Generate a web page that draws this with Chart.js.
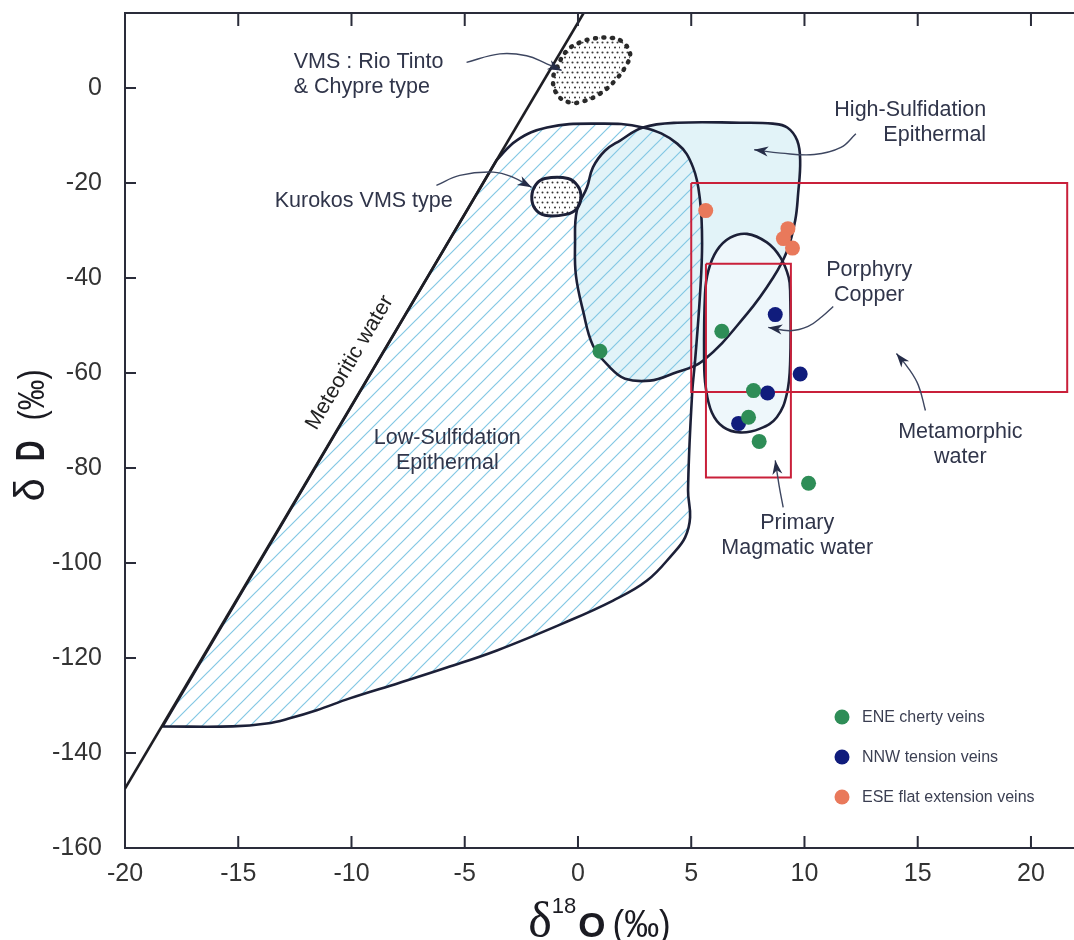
<!DOCTYPE html>
<html>
<head>
<meta charset="utf-8">
<title>δD vs δ18O</title>
<script src="https://cdn.jsdelivr.net/npm/chart.js@4.4.1/dist/chart.umd.min.js"></script>
<style>
  html, body { margin: 0; padding: 0; background: #fff; }
  canvas { display: block; }
</style>
</head>
<body>
<canvas id="chart" width="1074" height="940" style="width:1074px;height:940px"></canvas>
<script>
// ticks
const xTicks = [-20, -15, -10, -5, 0, 5, 10, 15, 20];
const yTicks = [-160, -140, -120, -100, -80, -60, -40, -20, 0];

// samples (δ18O, δD)
const seriesNames = ['ENE cherty veins', 'NNW tension veins', 'ESE flat extension veins'];
const eneCherty = [[0.97, -55.4], [6.35, -51.2], [7.75, -63.7], [7.53, -69.3], [8.0, -74.4], [10.18, -83.2]];
const nnwTension = [[8.71, -47.7], [9.81, -60.2], [8.37, -64.2], [7.09, -70.6]];
const eseFlat = [[5.64, -25.8], [9.27, -29.6], [9.07, -31.7], [9.47, -33.7]];

// fields (outlines, repeated point = sharp corner)
const meteoricWater = [[-20, -147.5], [0.25, 15.8]];
const lowSulfidation = [
  [-18.34, -134.4], [-18.34, -134.4], [-3.6, -15.2], [-3.6, -15.2],
  [-2.7, -11.0], [-1.37, -8.3], [0.66, -7.5], [2.87, -8.3], [4.38, -11.7], [5.08, -16.7],
  [5.39, -23.7], [5.48, -32.7], [5.39, -43.3], [5.17, -57.4], [5.04, -64.3], [4.86, -84.7],
  [4.95, -90.4], [4.73, -94.6], [4.2, -98.0], [3.05, -103.7], [1.55, -107.9], [-0.66, -112.7],
  [-3.58, -118.4], [-5.79, -122.0], [-7.87, -125.2], [-10.08, -128.5], [-11.54, -131.0],
  [-12.73, -132.7], [-13.75, -133.8], [-15.25, -134.4]
];
const highSulfidation = [
  [-0.13, -32.8], [-0.05, -25.8], [0.4, -20.9], [0.66, -16.7], [1.19, -13.2], [1.86, -11.05],
  [2.87, -8.3], [4.38, -7.3], [7.16, -7.3], [8.6, -7.5], [9.24, -8.3], [9.68, -11.05],
  [9.81, -15.3], [9.72, -22.2], [9.59, -27.9], [9.24, -34.2], [8.62, -39.9], [7.47, -47.5],
  [5.52, -57.4], [4.2, -60.1], [3.18, -61.6], [2.08, -61.2], [1.41, -58.8], [0.66, -54.2],
  [0.22, -46.8], [-0.09, -39.5]
];
const porphyryCopper = [
  [7.46, -30.7], [8.34, -32.5], [8.93, -35.6], [9.3, -39.8], [9.37, -43.3], [9.37, -57.4],
  [9.22, -64.4], [8.78, -69.3], [8.04, -71.7], [7.16, -72.5], [6.42, -71.4], [5.91, -68.3],
  [5.64, -63.0], [5.57, -57.4], [5.61, -43.3], [5.76, -38.4], [6.13, -34.2], [6.72, -31.5]
];
const kurokosVms = [
  [-1.46, -19.05], [-0.44, -19.05], [0.0, -20.7], [0.13, -23.05], [-0.05, -25.4],
  [-0.53, -26.6], [-1.46, -26.8], [-1.9, -25.4], [-2.04, -22.8], [-1.85, -20.3]
];
const rioTintoVms = [
  [-0.93, 4.3], [-0.49, 7.9], [0.09, 9.6], [0.66, 10.4], [1.41, 10.6], [1.94, 9.8], [2.3, 7.3],
  [2.12, 4.7], [1.64, 1.6], [0.97, -1.2], [0.22, -2.8], [-0.35, -3.05], [-0.88, -1.6], [-1.11, 1.6]
];
const metamorphicBox = [[5, -20], [21.6, -20], [21.6, -64], [5, -64], [5, -20]];
const magmaticBox = [[5.65, -37], [9.4, -37], [9.4, -82], [5.65, -82], [5.65, -37]];

// leader arrows (last point = arrow tip)
const arrowRioTinto = [[-4.92, 5.4], [-3.45, 7.2], [-2.27, 6.8], [-1.38, 5.1], [-0.72, 3.7]];
const arrowKurokos = [[-6.25, -20.5], [-5.22, -18.4], [-3.74, -17.7], [-2.86, -18.8], [-2.05, -20.9]];
const arrowHighSulf = [[12.27, -9.6], [11.61, -12.5], [10.43, -14.0], [8.96, -13.7], [7.78, -13.0]];
const arrowPorphyry = [[11.27, -46.0], [10.78, -48.1], [10.16, -50.2], [9.37, -51.1], [8.4, -50.4]];
const arrowMetamorphic = [[15.34, -67.9], [15.03, -62.6], [14.59, -59.0], [14.06, -55.9]];
const arrowMagmatic = [[9.06, -88.3], [8.88, -83.7], [8.71, -78.4]];
const arrows = [arrowRioTinto, arrowKurokos, arrowHighSulf, arrowPorphyry, arrowMetamorphic, arrowMagmatic];

// text labels
const annotations = [
  { lines: ['VMS : Rio Tinto', '& Chypre type'], x: -12.55, y: 5.4, align: 'left' },
  { lines: ['Kurokos VMS type'], x: -9.46, y: -23.7, align: 'center' },
  { lines: ['High-Sulfidation', 'Epithermal'], x: 18.02, y: -4.74, align: 'right' },
  { lines: ['Porphyry', 'Copper'], x: 12.86, y: -38.4, align: 'center' },
  { lines: ['Metamorphic', 'water'], x: 16.88, y: -72.5, align: 'center' },
  { lines: ['Primary', 'Magmatic water'], x: 9.68, y: -91.5, align: 'center' },
  { lines: ['Low-Sulfidation', 'Epithermal'], x: -5.77, y: -73.8, align: 'center' }
];
const meteoricLabel = { text: 'Meteoritic water', x: -10.08, y: -57.8 };

// styles
const family = '"Liberation Sans", Arial, Helvetica, sans-serif';
const axisColor = '#2a2c3a';
const outlineColor = '#1c2038';
const arrowColor = '#3d4660';
const textColor = '#30354a';
const boxRed = '#c9203a';
const seriesColors = ['#2e8d57', '#101c7c', '#e9795b'];

function hatch() {
  const s = 16;
  const c = document.createElement('canvas');
  c.width = c.height = s;
  const g = c.getContext('2d');
  g.strokeStyle = '#84c8e4';
  g.lineWidth = 1.2;
  g.beginPath();
  g.moveTo(0, s); g.lineTo(s, 0);
  g.moveTo(-s / 2, s / 2); g.lineTo(s / 2, -s / 2);
  g.moveTo(s / 2, s * 1.5); g.lineTo(s * 1.5, s / 2);
  g.stroke();
  return g.createPattern(c, 'repeat');
}

function stipple(step, r, color) {
  const c = document.createElement('canvas');
  c.width = c.height = step * 2;
  const g = c.getContext('2d');
  g.fillStyle = '#fff';
  g.fillRect(0, 0, step * 2, step * 2);
  g.fillStyle = color;
  for (const [px, py] of [[step / 2, step / 2], [step * 1.5, step * 1.5], [step * 1.5, step / 2], [step / 2, step * 1.5]]) {
    g.beginPath();
    g.arc(px + (py > step ? step / 2 : 0), py, r, 0, Math.PI * 2);
    g.fill();
  }
  return g.createPattern(c, 'repeat');
}

function fieldFill(data, bg, order) {
  return { data, showLine: true, closed: true, tension: 0.4, borderWidth: 0, pointRadius: 0, fill: 'shape', backgroundColor: bg, order };
}
function fieldLine(data, extra) {
  return Object.assign({ data, showLine: true, closed: true, tension: 0.4, borderColor: outlineColor, borderWidth: 2.6, pointRadius: 0, fill: false, order: 5 }, extra || {});
}
function straight(data, color, width, order) {
  return { data, showLine: true, tension: 0, borderColor: color, borderWidth: width, pointRadius: 0, fill: false, order };
}

const datasets = [
  ...[eneCherty, nnwTension, eseFlat].map((d, i) => ({
    label: seriesNames[i], data: d, backgroundColor: seriesColors[i], borderColor: seriesColors[i],
    borderWidth: 0, pointRadius: 7.5, order: i === 0 ? 0 : 1
  })),
  ...arrows.map(a => ({ data: a, showLine: true, tension: 0.4, borderColor: arrowColor, borderWidth: 1.4, pointRadius: 0, fill: false, order: 2 })),
  straight(metamorphicBox, boxRed, 2, 3),
  straight(magmaticBox, boxRed, 2, 3),
  straight(meteoricWater, '#1e1e24', 2.6, 4),
  fieldLine(lowSulfidation),
  fieldLine(highSulfidation),
  fieldLine(porphyryCopper),
  fieldLine(kurokosVms, { borderWidth: 3 }),
  fieldLine(rioTintoVms, { borderColor: '#2a2a2a', borderWidth: 4.5, borderDash: [1, 7.5], borderCapStyle: 'round' }),
  fieldFill(rioTintoVms, stipple(5, 1.05, '#3a3a3a'), 6),
  fieldFill(kurokosVms, stipple(5, 1.0, '#333'), 6),
  fieldFill(lowSulfidation, hatch(), 7),
  fieldFill(porphyryCopper, '#eef7fb', 8),
  fieldFill(highSulfidation, '#e2f3f8', 9)
];

// make the flagged outlines closed, smooth loops
const closeLoops = {
  id: 'closeLoops',
  afterDatasetUpdate(chart, args) {
    const ds = chart.data.datasets[args.index];
    if (ds.closed && args.meta.dataset) {
      args.meta.dataset._loop = true;
      args.meta.dataset._fullLoop = true;
    }
  }
};

function measureParts(ctx, parts) {
  let w = 0;
  for (const p of parts) {
    if (p.t) { ctx.font = p.font; p.w = ctx.measureText(p.t).width * (p.sx || 1); } else p.w = p.gap;
    w += p.w;
  }
  return w;
}
function drawParts(ctx, parts, x0, y0) {
  let x = x0;
  for (const p of parts) {
    if (p.t) {
      ctx.save();
      ctx.font = p.font;
      ctx.translate(x, y0 + (p.dy || 0));
      ctx.scale(p.sx || 1, 1);
      ctx.fillText(p.t, 0, 0);
      ctx.restore();
    }
    x += p.w;
  }
}

const decor = {
  id: 'decor',
  afterDatasetsDraw(chart) {
    const { ctx, scales: { x, y } } = chart;
    ctx.save();
    // arrow heads
    ctx.fillStyle = '#262d48';
    for (const a of arrows) {
      const n = a.length;
      const x1 = x.getPixelForValue(a[n - 2][0]), y1 = y.getPixelForValue(a[n - 2][1]);
      const x2 = x.getPixelForValue(a[n - 1][0]), y2 = y.getPixelForValue(a[n - 1][1]);
      ctx.save();
      ctx.translate(x2, y2);
      ctx.rotate(Math.atan2(y2 - y1, x2 - x1));
      ctx.beginPath();
      ctx.moveTo(0, 0); ctx.lineTo(-14, -5); ctx.lineTo(-10, 0); ctx.lineTo(-14, 5);
      ctx.closePath();
      ctx.fill();
      ctx.restore();
    }
    // labels
    ctx.fillStyle = textColor;
    ctx.font = `21.5px ${family}`;
    ctx.textBaseline = 'middle';
    for (const an of annotations) {
      ctx.textAlign = an.align;
      const px = x.getPixelForValue(an.x), py = y.getPixelForValue(an.y);
      an.lines.forEach((t, i) => ctx.fillText(t, px, py + i * 25));
    }
    // label along meteoric water line
    const p0x = x.getPixelForValue(meteoricWater[0][0]), p0y = y.getPixelForValue(meteoricWater[0][1]);
    const p1x = x.getPixelForValue(meteoricWater[1][0]), p1y = y.getPixelForValue(meteoricWater[1][1]);
    ctx.save();
    ctx.translate(x.getPixelForValue(meteoricLabel.x), y.getPixelForValue(meteoricLabel.y));
    ctx.rotate(Math.atan2(p1y - p0y, p1x - p0x));
    ctx.textAlign = 'center';
    ctx.fillStyle = '#222';
    ctx.fillText(meteoricLabel.text, 0, 0);
    ctx.restore();
    ctx.restore();
  },
  afterDraw(chart) {
    const { ctx, chartArea: a, scales: { x, y } } = chart;
    ctx.save();
    // top frame line + inward ticks
    ctx.strokeStyle = axisColor;
    ctx.lineWidth = 2;
    ctx.beginPath();
    ctx.moveTo(a.left, a.top); ctx.lineTo(a.right, a.top);
    for (const v of xTicks) {
      const px = x.getPixelForValue(v);
      ctx.moveTo(px, a.bottom); ctx.lineTo(px, a.bottom - 12);
      ctx.moveTo(px, a.top); ctx.lineTo(px, a.top + 13);
    }
    for (const v of yTicks) {
      const py = y.getPixelForValue(v);
      ctx.moveTo(a.left, py); ctx.lineTo(a.left + 11, py);
    }
    ctx.stroke();

    // legend
    ctx.textBaseline = 'middle';
    ctx.textAlign = 'left';
    ctx.font = `16px ${family}`;
    seriesNames.forEach((name, i) => {
      const ly = a.bottom - 131 + i * 40;
      ctx.fillStyle = seriesColors[i];
      ctx.beginPath();
      ctx.arc(a.right - 232, ly, 7.5, 0, Math.PI * 2);
      ctx.fill();
      ctx.fillStyle = '#3b3f52';
      ctx.fillText(name, a.right - 212, ly + 1);
    });

    // axis titles
    ctx.fillStyle = '#1b1b22';
    ctx.textBaseline = 'alphabetic';
    const xParts = [
      { t: 'δ', font: '50px "Liberation Serif", serif' },
      { t: '18', font: `22px ${family}`, dy: -24 },
      { gap: 2 },
      { t: 'O', font: `bold 35px ${family}` },
      { gap: 7 },
      { t: '(‰)', font: `38px ${family}`, sx: 0.92 }
    ];
    const xw = measureParts(ctx, xParts);
    drawParts(ctx, xParts, (a.left + a.right) / 2 - xw / 2, a.bottom + 89);

    const yParts = [
      { t: 'δ', font: `42px ${family}` },
      { gap: 17 },
      { t: 'D', font: `bold 40px ${family}`, sx: 0.72 },
      { gap: 20 },
      { t: '(‰)', font: `36px ${family}`, sx: 0.85 }
    ];
    const yw = measureParts(ctx, yParts);
    ctx.translate(44, (a.top + a.bottom) / 2 + 5);
    ctx.rotate(-Math.PI / 2);
    drawParts(ctx, yParts, -yw / 2, 0);
    ctx.restore();
  }
};

new Chart(document.getElementById('chart'), {
  type: 'scatter',
  data: { datasets },
  options: {
    responsive: false,
    animation: false,
    events: [],
    layout: { autoPadding: false, padding: { top: 13, right: 0, bottom: 0, left: 0 } },
    plugins: { legend: { display: false }, tooltip: { enabled: false } },
    scales: {
      x: {
        type: 'linear', position: 'bottom', min: -20, max: 21.9,
        afterBuildTicks: s => { s.ticks = xTicks.map(v => ({ value: v })); },
        afterFit: s => { s.height = 92; s.paddingLeft = 0; s.paddingRight = 0; },
        grid: { display: false },
        border: { display: true, color: axisColor, width: 2 },
        ticks: { font: { family, size: 25 }, color: '#333', padding: 3, maxRotation: 0, autoSkip: false }
      },
      y: {
        type: 'linear', position: 'left', min: -160, max: 15.8,
        afterBuildTicks: s => { s.ticks = yTicks.map(v => ({ value: v })); },
        afterFit: s => { s.width = 125; s.paddingTop = 0; s.paddingBottom = 0; },
        grid: { display: false },
        border: { display: true, color: axisColor, width: 2 },
        ticks: { font: { family, size: 25 }, color: '#333', padding: 15, autoSkip: false }
      }
    }
  },
  plugins: [closeLoops, decor]
});
</script>
</body>
</html>
